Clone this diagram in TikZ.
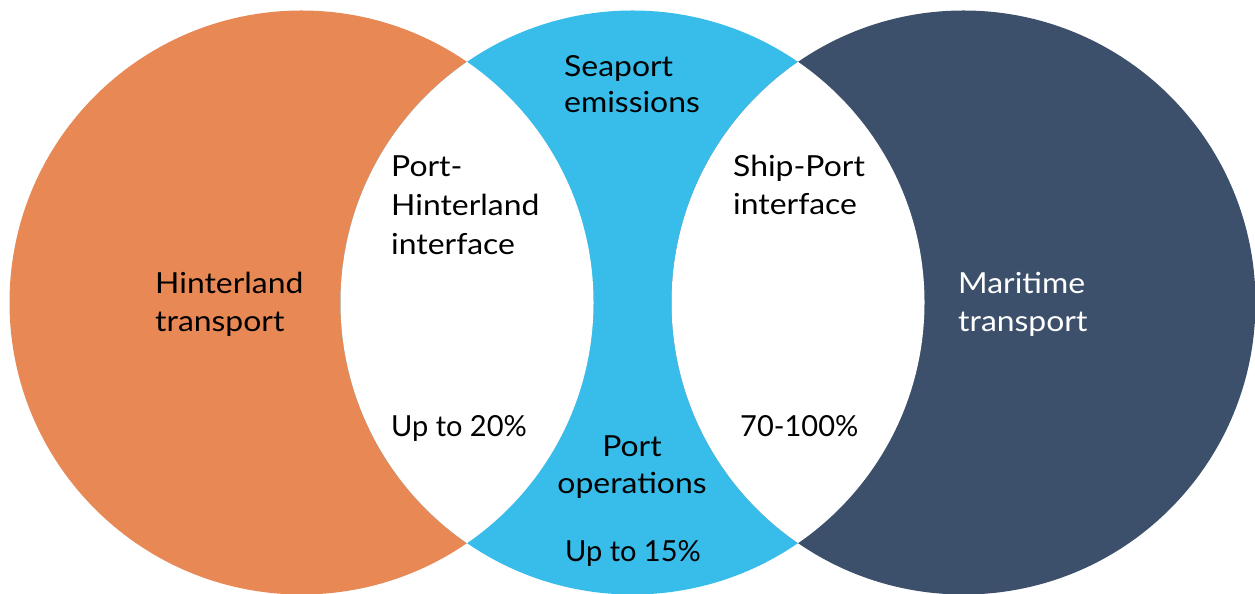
\documentclass[tikz,border=0pt]{standalone}
\usepackage{fontspec}
\setmainfont{Lato}
\newfontfamily\widelato{Lato}[FakeStretch=1.1]
\definecolor{hinter}{HTML}{E88855}
\definecolor{seaport}{HTML}{38BDEA}
\definecolor{maritime}{HTML}{3D506B}
\begin{document}
\begin{tikzpicture}[x=1pt,y=1pt,
  lbl/.style={inner sep=0pt,font=\widelato\fontsize{29}{38}\selectfont,text=black},
  wlbl/.style={lbl,text=white},
  nlbl/.style={inner sep=0pt,font=\fontsize{29}{38}\selectfont,text=black}]
\useasboundingbox (0,0) rectangle (1255,594);
\coordinate (cL) at (301.5,291.5);
\coordinate (cM) at (632.5,291.5);
\coordinate (cR) at (963.5,291.5);
\def\rad{292}
\fill[hinter] (cL) circle[radius=\rad];
\fill[seaport] (cM) circle[radius=\rad];
\fill[maritime] (cR) circle[radius=\rad];
\begin{scope}
  \clip (cL) circle[radius=\rad];
  \fill[white] (cM) circle[radius=\rad];
\end{scope}
\begin{scope}
  \clip (cR) circle[radius=\rad];
  \fill[white] (cM) circle[radius=\rad];
\end{scope}
% labels
\node[lbl,anchor=base west] (sea1) at (564,517) {Seaport};
\node[lbl,anchor=base west] (sea2) at (564,481) {emissions};
\node[lbl,anchor=base west] (ph1) at (391,417) {Port-};
\node[lbl,anchor=base west] (ph2) at (391,378) {Hinterland};
\node[lbl,anchor=base west] (ph3) at (391,339) {interface};
\node[lbl,anchor=base west] (sp1) at (733,417) {Ship-Port};
\node[lbl,anchor=base west] (sp2) at (733,379) {interface};
\node[lbl,anchor=base west] (ht1) at (155,300) {Hinterland};
\node[lbl,anchor=base west] (ht2) at (155,262) {transport};
\node[wlbl,anchor=base west] (mt1) at (958,300) {Maritime};
\node[wlbl,anchor=base west] (mt2) at (958,262) {transport};
\node[nlbl,anchor=base west] (p20) at (391,157) {Up to 20\%};
\node[nlbl,anchor=base west] (p70) at (740,157) {70-100\%};
\node[lbl,anchor=base] (po1) at (632,137) {Port};
\node[lbl,anchor=base] (po2) at (632,100) {operations};
\node[nlbl,anchor=base] (p15) at (633,32) {Up to 15\%};
\end{tikzpicture}
\end{document}
